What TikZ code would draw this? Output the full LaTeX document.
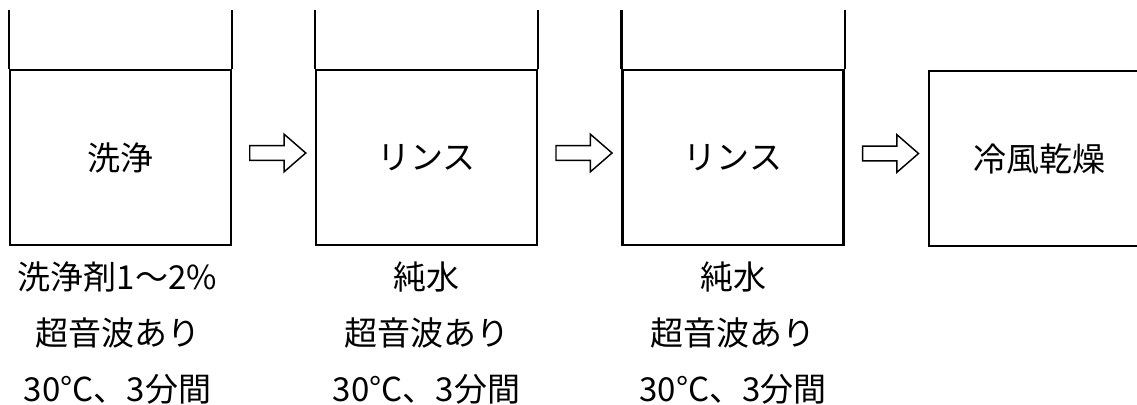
\documentclass[tikz,border=0pt]{standalone}
\usepackage{fontspec}
\setmainfont{Noto Sans CJK JP}
\usetikzlibrary{shapes.arrows, positioning, calc}

\begin{document}
\begin{tikzpicture}[
  x=0.75pt,y=0.75pt,
  tank/.style={
    rectangle, draw=black, line width=1.8pt, fill=white,
    minimum width=165.75pt, minimum height=131.25pt,
    inner sep=0pt, font=\fontsize{24.75}{30}\selectfont
  },
  wall/.style={draw=black, line width=1.8pt},
  flow/.style={
    shape=single arrow, draw=black, line width=1.1pt, fill=white,
    minimum height=42pt, minimum width=27pt,
    single arrow head extend=8.5pt, single arrow tip angle=82,
    inner sep=5pt
  },
  note/.style={align=center, inner sep=0pt, font=\fontsize{24.75}{42}\selectfont}
]
\useasboundingbox (0,0) rectangle (1137,404);

% ---- Tanks and drying box ----
\node[tank] (t1) at ( 120.5, 246.5) {洗浄};
\node[tank] (t2) at ( 426.5, 246.5) {リンス};
\node[tank] (t3) at ( 733.0, 246.5) {リンス};
\node[tank] (dry) at (1039.5, 245.5) {冷風乾燥};

% ---- Open walls above the water line ----
\foreach \t in {t1,t2,t3}{
  \draw[wall] (\t.north west) -- ++(0,59);
  \draw[wall] (\t.north east) -- ++(0,59);
}

% ---- Hollow arrows between the steps ----
\node[flow] (a1) at ($(t1.east)!0.5!(t2.west)+(0,4.5)$) {};
\node[flow] (a2) at ($(t2.east)!0.5!(t3.west)+(0,4.5)$) {};
\node[flow] (a3) at ($(t3.east)!0.5!(dry.west)+(0,4.5)$) {};

% ---- Conditions under each tank ----
\node[note] (n1) at ($(t1.south)+(-3,-87)$) {洗浄剤1〜2\%\\超音波あり\\30°C、3分間};
\node[note] (n2) at ($(t2.south)+(0,-87)$) {純水\\超音波あり\\30°C、3分間};
\node[note] (n3) at ($(t3.south)+(0,-87)$) {純水\\超音波あり\\30°C、3分間};

\end{tikzpicture}
\end{document}
